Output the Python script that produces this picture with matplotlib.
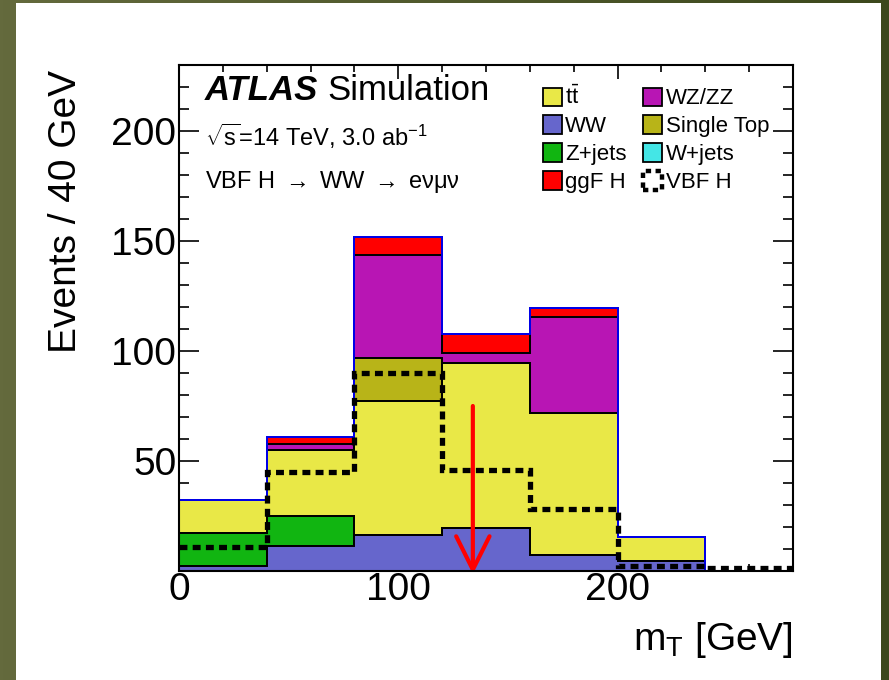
import numpy as np
import matplotlib
matplotlib.use("Agg")
import matplotlib.pyplot as plt
from matplotlib.patches import Patch, Rectangle
from matplotlib.ticker import MultipleLocator

plt.rcParams['font.family'] = ['Liberation Sans', 'DejaVu Sans']
plt.rcParams['mathtext.fontset'] = 'custom'
plt.rcParams['mathtext.rm'] = 'Liberation Sans'
plt.rcParams['mathtext.it'] = 'Liberation Sans:italic'
plt.rcParams['mathtext.bf'] = 'Liberation Sans:bold'

# Binning in m_T [GeV]
edges = [0, 40, 80, 120, 160, 200, 240, 280]

# Background contributions (events / 40 GeV), stacked bottom to top
ww = [2.5, 11.5, 16.5, 19.5, 7.5, 4.5, 0.0]
zjets = [15.0, 13.5, 0.0, 0.0, 0.0, 0.0, 0.0]
wjets = [0.0, 0.0, 0.0, 0.0, 0.0, 0.0, 0.0]
ttbar = [15.0, 30.0, 61.0, 75.0, 64.5, 11.0, 0.0]
single_top = [0.0, 0.0, 19.5, 0.0, 0.0, 0.0, 0.0]
wz_zz = [0.0, 2.7, 46.5, 4.8, 43.6, 0.0, 0.0]
ggf_h = [0.0, 3.3, 8.3, 8.5, 3.8, 0.0, 0.0]

# VBF signal (overlaid, not stacked)
vbf_h = [11.0, 45.0, 90.0, 46.0, 28.0, 2.5, 1.5]

# m_T cut value
mt_cut = 134

stack = [
    ("WW", ww, "#6666cc"),
    ("Z+jets", zjets, "#11b511"),
    ("W+jets", wjets, "#44e6e6"),
    (r"$\mathrm{t\bar{t}}$", ttbar, "#e9e847"),
    ("Single Top", single_top, "#b8b418"),
    ("WZ/ZZ", wz_zz, "#b815b4"),
    ("ggF H", ggf_h, "#ff0000"),
]
colors = {name: c for name, _, c in stack}

fig = plt.figure(figsize=(8.89, 6.80), dpi=100)

# Framed page background
bg = fig.add_axes([0, 0, 1, 1], zorder=-10)
left_col = np.array([0x64, 0x6a, 0x3d]) / 255
right_col = np.array([0x3c, 0x48, 0x1c]) / 255
t = np.linspace(0, 1, 256)[None, :, None]
grad = left_col * (1 - t) + right_col * t
bg.imshow(grad, extent=[0, 1, 0, 1], aspect='auto')
bg.add_patch(Rectangle((16 / 889, 0), (881 - 16) / 889, (680 - 3) / 680,
                       facecolor='white', edgecolor='none'))
bg.set_xlim(0, 1)
bg.set_ylim(0, 1)
bg.axis('off')

ax = fig.add_axes([179 / 889, 1 - 571 / 680, 614 / 889, 506 / 680])

bottom = np.zeros(len(edges) - 1)
for name, vals, col in stack:
    top = bottom + np.asarray(vals)
    ax.stairs(top, edges, baseline=bottom.copy(), fill=True,
              facecolor=col, edgecolor='none', zorder=2)
    ax.stairs(top, edges, baseline=bottom.copy(), fill=False,
              color='black', lw=1.3, zorder=3)
    bottom = top

# Total outline
ax.stairs(bottom, edges, baseline=0, color='#0000ff', lw=1.3, zorder=4)

# Signal
ax.stairs(vbf_h, edges, baseline=None, color='black', lw=3.8,
          linestyle=(0, (1.5, 1.0)), zorder=5)

# Cut arrow
ax.annotate('', xy=(mt_cut, -1.5), xytext=(mt_cut, 75),
            arrowprops=dict(arrowstyle='->,head_length=2.4,head_width=1.2',
                            color='red', lw=3, shrinkA=0, shrinkB=0,
                            mutation_scale=10),
            annotation_clip=False, zorder=6)

ax.set_xlim(0, 280)
ax.set_ylim(0, 230)
ax.set_xticks([0, 100, 200])
ax.set_yticks([50, 100, 150, 200])
ax.xaxis.set_minor_locator(MultipleLocator(20))
ax.yaxis.set_minor_locator(MultipleLocator(10))
ax.tick_params(which='both', direction='in', top=True, right=True,
               width=1.2, labelsize=28, colors='black')
ax.tick_params(axis='y', which='major', length=14.4, pad=2)
ax.tick_params(axis='y', which='minor', length=7.2)
ax.tick_params(axis='x', which='major', length=10, pad=1)
ax.tick_params(axis='x', which='minor', length=5)
for sp in ax.spines.values():
    sp.set_linewidth(1.5)
    sp.set_zorder(7)

ax.set_ylabel('Events / 40 GeV', fontsize=28, loc='top')
ax.yaxis.set_label_coords(-0.155, 0.99)
ax.set_xlabel(r'm$_{\mathrm{T}}$ [GeV]', fontsize=28, loc='right')
ax.xaxis.set_label_coords(1.0, -0.097)

# Labels
ax.text(0.042, 0.931, 'ATLAS', transform=ax.transAxes, fontsize=25,
        fontweight='bold', fontstyle='italic', va='baseline')
ax.text(0.241, 0.931, 'Simulation', transform=ax.transAxes, fontsize=25,
        va='baseline')
ax.text(0.042, 0.840, r'$\sqrt{\mathrm{s}}$=14 TeV, 3.0 ab$^{-1}$', transform=ax.transAxes,
        fontsize=17, va='baseline')
ax.text(0.042, 0.757, 'VBF H $\\rightarrow$ WW $\\rightarrow$ e\u03bd\u03bc\u03bd',
        transform=ax.transAxes, fontsize=17, va='baseline')

# Legend (two columns)
legend_order = [r"$\mathrm{t\bar{t}}$", "WW", "Z+jets", "ggF H",
                "WZ/ZZ", "Single Top", "W+jets"]
handles = [Patch(facecolor=colors[n], edgecolor='black', lw=1.3) for n in legend_order]
labels = list(legend_order)
handles.append(Patch(facecolor='white', edgecolor='black', lw=3.2,
                     linestyle=(0, (1.2, 1.0))))
labels.append("VBF H")
ax.legend(handles, labels, ncol=2, loc='upper left', bbox_to_anchor=(0.593, 0.958),
          frameon=False, fontsize=16, borderpad=0, borderaxespad=0,
          handlelength=0.85, handleheight=0.9, handletextpad=0.15,
          labelspacing=0.27, columnspacing=0.75)

fig.savefig('out.png', dpi=100)
